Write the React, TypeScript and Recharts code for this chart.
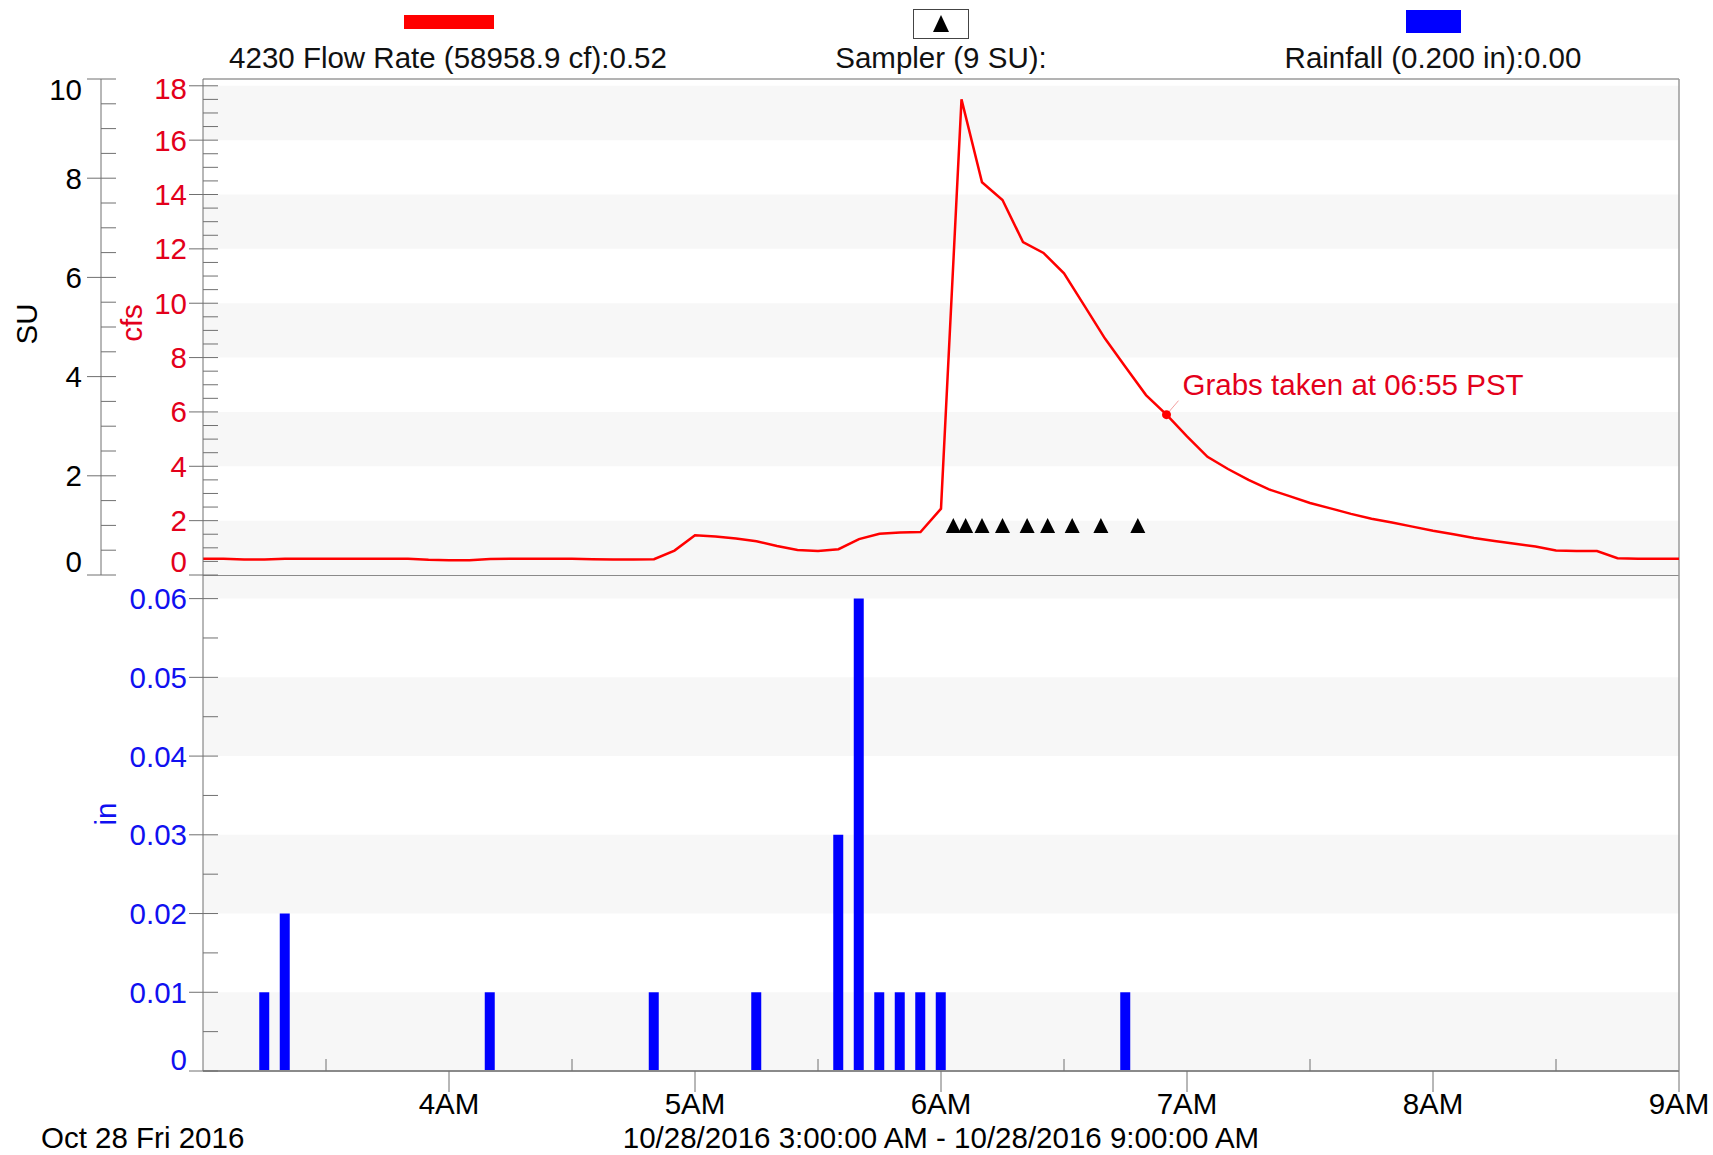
import React from 'react';
import {
  ComposedChart,
  Line,
  Bar,
  Scatter,
  XAxis,
  YAxis,
  ReferenceArea,
  ReferenceLine,
} from 'recharts';

const FONT = '"Liberation Sans", Arial, sans-serif';
const FS = 29.5;
const RED = '#ff0000';
const RED_TEXT = '#e3001b';
const BLUE = '#0000ff';
const BLUE_TEXT = '#1010f0';
const AXIS = '#707070';
const BAND = '#f7f7f7';

// minutes after 3:00 AM, 5 minute readings
const flowMinutes = [
  0, 5, 10, 15, 20, 25, 30, 35, 40, 45, 50, 55, 60, 65, 70, 75, 80, 85, 90, 95,
  100, 105, 110, 115, 120, 125, 130, 135, 140, 145, 150, 155, 160, 165, 170, 175,
  180, 185, 190, 195, 200, 205, 210, 215, 220, 225, 230, 235, 240, 245, 250, 255,
  260, 265, 270, 275, 280, 285, 290, 295, 300, 305, 310, 315, 320, 325, 330, 335,
  340, 345, 350, 355, 360,
];
const flowCfs = [
  0.6, 0.6, 0.57, 0.57, 0.6, 0.6, 0.6, 0.6, 0.6, 0.6, 0.6, 0.56, 0.54, 0.54, 0.59, 0.6,
  0.6, 0.6, 0.6, 0.58, 0.57, 0.57, 0.58, 0.9, 1.46, 1.42, 1.34, 1.24, 1.07, 0.92, 0.88,
  0.95, 1.32, 1.52, 1.56, 1.58, 2.44, 17.5, 14.45, 13.8, 12.25, 11.85, 11.1, 9.9, 8.7,
  7.65, 6.62, 5.9, 5.1, 4.35, 3.9, 3.5, 3.15, 2.9, 2.65, 2.45, 2.25, 2.07, 1.93, 1.78,
  1.63, 1.5, 1.36, 1.25, 1.15, 1.05, 0.9, 0.88, 0.88, 0.62, 0.6, 0.6, 0.6,
];

const rainMinutes = [15, 20, 70, 110, 135, 155, 160, 165, 170, 175, 180, 225];
const rainInches = [0.01, 0.02, 0.01, 0.01, 0.01, 0.03, 0.06, 0.01, 0.01, 0.01, 0.01, 0.01];

const samplerMinutes = [183, 186, 190, 195, 201, 206, 212, 219, 228];
const samplerSU = [1, 1, 1, 1, 1, 1, 1, 1, 1];

const grabMinutes = [235];
const grabCfs = [5.9];

const hourTicks = [60, 120, 180, 240, 300, 360];
const hourLabels = ['4AM', '5AM', '6AM', '7AM', '8AM', '9AM'];
const halfHourTicks = [30, 90, 150, 210, 270, 330];

const cfsLabels = [0, 2, 4, 6, 8, 10, 12, 14, 16, 18];
const suLabels = [0, 2, 4, 6, 8, 10];
const inLabels = [0, 0.01, 0.02, 0.03, 0.04, 0.05, 0.06];

const cfsTicks = Array.from({ length: 37 }, (_, i) => i * 0.5);
const suTicks = Array.from({ length: 21 }, (_, i) => i * 0.5);
const inTicks = Array.from({ length: 13 }, (_, i) => Math.round(i * 5) / 1000);

const flowData = flowMinutes.map((t, i) => ({ t, cfs: flowCfs[i] }));
const rainData = rainMinutes.map((t, i) => ({ t, rain: rainInches[i] }));
const samplerData = samplerMinutes.map((t, i) => ({ t, su: samplerSU[i] }));
const grabData = grabMinutes.map((t, i) => ({ t, cfs: grabCfs[i] }));

const cfsBands = [[0, 2], [4, 6], [8, 10], [12, 14], [16, 18]];
const inBands = [[0, 0.01], [0.02, 0.03], [0.04, 0.05], [0.06, 0.063]];

const same = (a: number, b: number) => Math.abs(a - b) < 1e-9;

const makeYTick = (
  labels: number[],
  color: string,
  gap: number,
  fmt: (v: number) => string,
  shiftFor: (v: number) => number,
) => (props: any) => {
  const { x, y, payload } = props;
  const v = payload.value as number;
  const major = labels.some((m) => same(m, v));
  return (
    <g>
      <line x1={major ? x - 14 : x} x2={x + 15} y1={y} y2={y} stroke={AXIS} strokeWidth={1} />
      {major && (
        <text
          x={x - gap}
          y={y + shiftFor(v)}
          textAnchor="end"
          dominantBaseline="central"
          fill={color}
          fontSize={FS}
          fontFamily={FONT}
        >
          {fmt(v)}
        </text>
      )}
    </g>
  );
};

const CfsTick = makeYTick(cfsLabels, RED_TEXT, 16, (v) => String(v), (v) => (v === 0 ? -14 : v === 18 ? 3 : 0));
const SuTick = makeYTick(suLabels, '#000', 19, (v) => String(v), (v) => (v === 0 ? -14 : v === 10 ? 10 : 0));
const InTick = makeYTick(inLabels, BLUE_TEXT, 16, (v) => (v === 0 ? '0' : v.toFixed(2)), (v) => (v === 0 ? -12 : 0));

const XTick = (props: any) => {
  const { x, y, payload } = props;
  const i = hourTicks.indexOf(payload.value);
  if (i < 0) {
    return <line x1={x} x2={x} y1={y - 12} y2={y} stroke={AXIS} strokeWidth={1} />;
  }
  return (
    <g>
      <line x1={x} x2={x} y1={y} y2={y + 21} stroke={AXIS} strokeWidth={1} />
      <text x={x} y={y + 32} textAnchor="middle" dominantBaseline="central" fill="#000" fontSize={FS} fontFamily={FONT}>
        {hourLabels[i]}
      </text>
    </g>
  );
};

const Triangle = (props: any) => {
  const { cx, cy } = props;
  return <path d={`M${cx - 7.5},${cy + 7.5} L${cx + 7.5},${cy + 7.5} L${cx},${cy - 7.5} Z`} fill="#000" />;
};

const GrabMark = (props: any) => {
  const { cx, cy } = props;
  return (
    <g>
      <line x1={cx} y1={cy} x2={cx + 12} y2={cy - 14} stroke="#f4a0a0" strokeWidth={1} />
      <circle cx={cx} cy={cy} r={4.5} fill={RED} />
      <text x={cx + 16} y={cy - 30} dominantBaseline="central" fill={RED_TEXT} fontSize={FS} fontFamily={FONT}>
        Grabs taken at 06:55 PST
      </text>
    </g>
  );
};

const rotatedLabel = (text: string, color: string, dx: number, dy: number) => (props: any) => {
  const { viewBox } = props;
  const cx = viewBox.x + dx;
  const cy = viewBox.y + viewBox.height / 2 + dy;
  return (
    <text
      x={cx}
      y={cy}
      transform={`rotate(-90 ${cx} ${cy})`}
      textAnchor="middle"
      dominantBaseline="central"
      fill={color}
      fontSize={FS}
      fontFamily={FONT}
    >
      {text}
    </text>
  );
};

const bottomLabel = (props: any) => {
  const { viewBox } = props;
  const y = viewBox.y + 66;
  return (
    <g fontSize={FS} fontFamily={FONT} fill="#000">
      <text x={viewBox.x - 162} y={y} dominantBaseline="central">
        Oct 28 Fri 2016
      </text>
      <text x={viewBox.x + viewBox.width / 2} y={y} textAnchor="middle" dominantBaseline="central">
        10/28/2016 3:00:00 AM - 10/28/2016 9:00:00 AM
      </text>
    </g>
  );
};

export default function App() {
  return (
    <div style={{ position: 'absolute', left: 0, top: 0, width: 1713, height: 1155, background: '#fff' }}>
      <div style={{ position: 'absolute', left: 0, top: 570 }}>
        <ComposedChart width={1713} height={585} data={rainData} margin={{ top: 5, right: 34, bottom: 0, left: 0 }}>
          <XAxis
            type="number"
            dataKey="t"
            domain={[0, 360]}
            allowDataOverflow
            ticks={[...halfHourTicks, ...hourTicks].sort((a, b) => a - b)}
            interval={0}
            height={84}
            tickSize={0}
            tickMargin={0}
            tickLine={false}
            axisLine={{ stroke: '#8a8a8a', strokeWidth: 2 }}
            tick={XTick}
            label={bottomLabel}
          />
          <YAxis
            yAxisId="in"
            type="number"
            width={203}
            domain={[0, 0.063]}
            allowDataOverflow
            ticks={inTicks}
            interval={0}
            tickSize={0}
            tickMargin={0}
            tickLine={false}
            axisLine={{ stroke: AXIS }}
            tick={InTick}
            label={rotatedLabel('in', BLUE_TEXT, 105, -9)}
          />
          {inBands.map(([a, b]) => (
            <ReferenceArea key={a} yAxisId="in" y1={a} y2={b} fill={BAND} fillOpacity={1} stroke="none" />
          ))}
          <ReferenceLine yAxisId="in" y={0.063} stroke="#8a8a8a" strokeWidth={2} />
          <ReferenceLine yAxisId="in" x={360} stroke="#9a9a9a" strokeWidth={1.5} />
          <Bar yAxisId="in" dataKey="rain" fill={BLUE} barSize={10} isAnimationActive={false} />
        </ComposedChart>
      </div>
      <div style={{ position: 'absolute', left: 0, top: 0 }}>
        <ComposedChart width={1713} height={590} data={flowData} margin={{ top: 79, right: 34, bottom: 15, left: 0 }}>
          <XAxis type="number" dataKey="t" domain={[0, 360]} allowDataOverflow hide />
          <YAxis
            yAxisId="cfs"
            type="number"
            width={102}
            domain={[0, 18.25]}
            allowDataOverflow
            ticks={cfsTicks}
            interval={0}
            tickSize={0}
            tickMargin={0}
            tickLine={false}
            axisLine={{ stroke: AXIS }}
            tick={CfsTick}
            label={rotatedLabel('cfs', RED_TEXT, 30, -4)}
          />
          <YAxis
            yAxisId="su"
            type="number"
            width={101}
            domain={[0, 10]}
            allowDataOverflow
            ticks={suTicks}
            interval={0}
            tickSize={0}
            tickMargin={0}
            tickLine={false}
            axisLine={{ stroke: AXIS }}
            tick={SuTick}
            label={rotatedLabel('SU', '#000', 26, -3)}
          />
          {cfsBands.map(([a, b]) => (
            <ReferenceArea key={a} yAxisId="cfs" y1={a} y2={b} fill={BAND} fillOpacity={1} stroke="none" />
          ))}
          <ReferenceLine yAxisId="cfs" y={18.25} stroke="#9a9a9a" strokeWidth={1.5} />
          <ReferenceLine yAxisId="cfs" x={360} stroke="#9a9a9a" strokeWidth={1.5} />
          <Line
            yAxisId="cfs"
            type="linear"
            dataKey="cfs"
            stroke={RED}
            strokeWidth={2.5}
            dot={false}
            activeDot={false}
            isAnimationActive={false}
          />
          <Scatter yAxisId="su" data={samplerData} dataKey="su" shape={Triangle} isAnimationActive={false} />
          <Scatter yAxisId="cfs" data={grabData} dataKey="cfs" shape={GrabMark} isAnimationActive={false} />
        </ComposedChart>
      </div>
      <svg width={1713} height={79} style={{ position: 'absolute', left: 0, top: 0 }} fontFamily={FONT} fontSize={FS}>
        <rect x={404} y={15} width={90} height={14} fill={RED} />
        <text x={448} y={57} textAnchor="middle" dominantBaseline="central" fill="#111">
          4230 Flow Rate (58958.9 cf):0.52
        </text>
        <rect x={913.5} y={9.5} width={55} height={29} fill="#fff" stroke="#444" strokeWidth={1} />
        <path d="M933,32 L949,32 L941,15 Z" fill="#000" />
        <text x={941} y={57} textAnchor="middle" dominantBaseline="central" fill="#111">
          Sampler (9 SU):
        </text>
        <rect x={1406} y={10} width={55} height={23} fill={BLUE} />
        <text x={1433} y={57} textAnchor="middle" dominantBaseline="central" fill="#111">
          Rainfall (0.200 in):0.00
        </text>
      </svg>
    </div>
  );
}
